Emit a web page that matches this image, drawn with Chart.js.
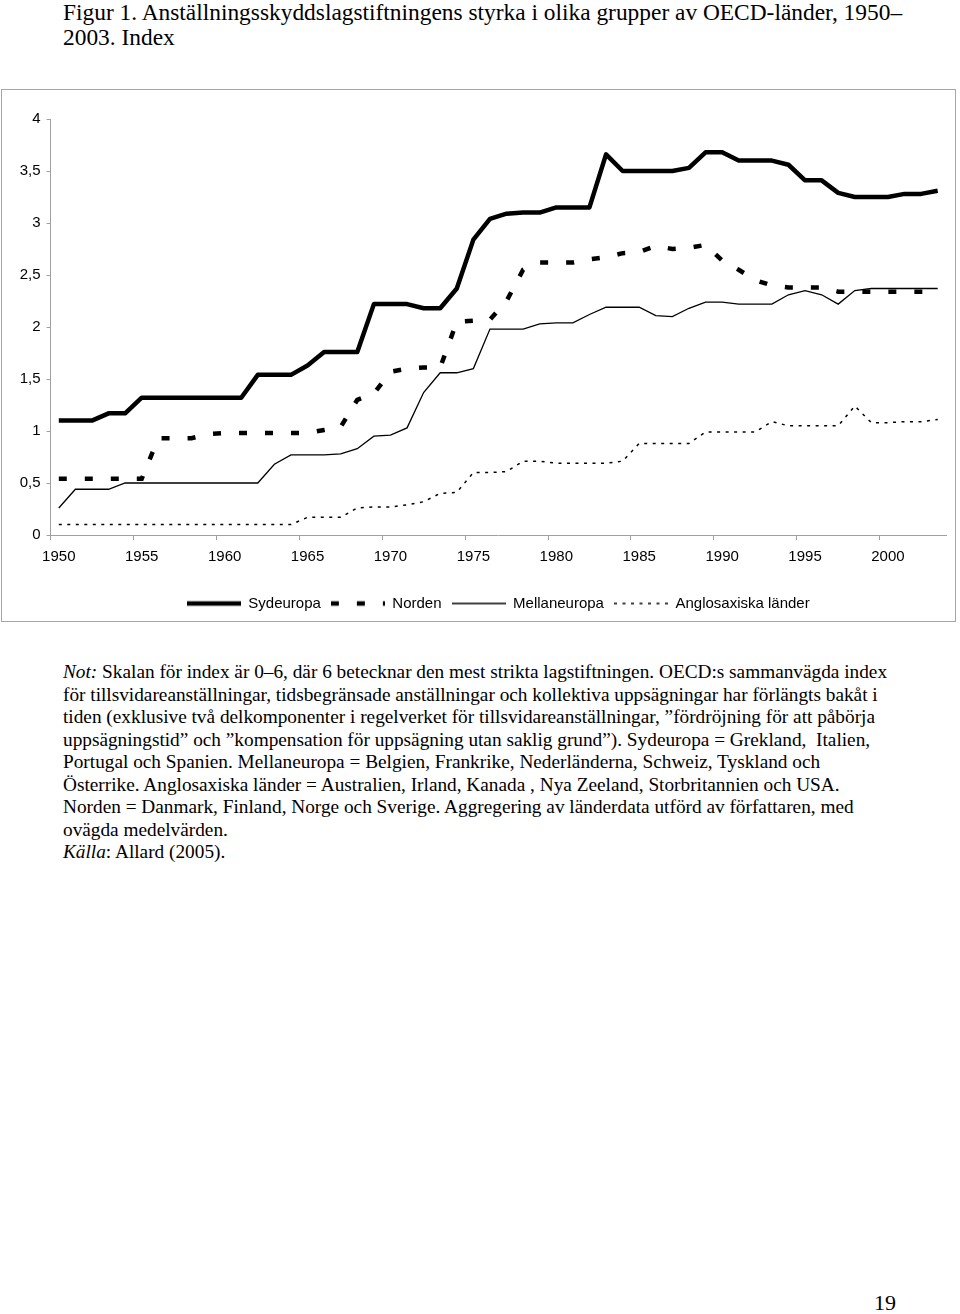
<!DOCTYPE html>
<html lang="sv">
<head>
<meta charset="utf-8">
<title>Figur 1</title>
<script src="https://cdn.jsdelivr.net/npm/chart.js@4.4.0/dist/chart.umd.min.js"></script>
<style>
  body { margin: 0; width: 960px; height: 1314px; background: #fff; position: relative;
         font-family: "Liberation Serif", "Times New Roman", serif; color: #000; overflow: hidden; }
  .title { position: absolute; left: 63px; top: 0; font-size: 23.4px; line-height: 25px; white-space: nowrap; }
  .frame { position: absolute; left: 1px; top: 89px; width: 953px; height: 531px; border: 1px solid #a6a6a6; }
  .notes { position: absolute; left: 63px; top: 661px; font-size: 19.3px; line-height: 22.5px; }
  .notes div { white-space: nowrap; }
  .page { position: absolute; left: 874px; top: 1290px; font-size: 22px; }
</style>
</head>
<body>
<div class="title">Figur 1. Anställningsskyddslagstiftningens styrka i olika grupper av OECD-länder, 1950–<br>2003. Index</div>

<div class="frame"><canvas id="chart"></canvas></div>

<div class="notes">
  <div><i>Not:</i> Skalan för index är 0–6, där 6 betecknar den mest strikta lagstiftningen. OECD:s sammanvägda index</div>
  <div>för tillsvidareanställningar, tidsbegränsade anställningar och kollektiva uppsägningar har förlängts bakåt i</div>
  <div>tiden (exklusive två delkomponenter i regelverket för tillsvidareanställningar, ”fördröjning för att påbörja</div>
  <div>uppsägningstid” och ”kompensation för uppsägning utan saklig grund”). Sydeuropa = Grekland,&nbsp; Italien,</div>
  <div>Portugal och Spanien. Mellaneuropa = Belgien, Frankrike, Nederländerna, Schweiz, Tyskland och</div>
  <div>Österrike. Anglosaxiska länder = Australien, Irland, Kanada , Nya Zeeland, Storbritannien och USA.</div>
  <div>Norden = Danmark, Finland, Norge och Sverige. Aggregering av länderdata utförd av författaren, med</div>
  <div>ovägda medelvärden.</div>
  <div><i>Källa</i>: Allard (2005).</div>
</div>

<div class="page">19</div>

<script>
const years = [
  '1950', '1951', '1952', '1953', '1954', '1955', '1956', '1957', '1958', '1959',
  '1960', '1961', '1962', '1963', '1964', '1965', '1966', '1967', '1968', '1969',
  '1970', '1971', '1972', '1973', '1974', '1975', '1976', '1977', '1978', '1979',
  '1980', '1981', '1982', '1983', '1984', '1985', '1986', '1987', '1988', '1989',
  '1990', '1991', '1992', '1993', '1994', '1995', '1996', '1997', '1998', '1999',
  '2000', '2001', '2002', '2003'
];

const sydeuropa = [
  1.10, 1.10, 1.10, 1.17, 1.17, 1.32, 1.32, 1.32, 1.32, 1.32,
  1.32, 1.32, 1.54, 1.54, 1.54, 1.63, 1.76, 1.76, 1.76, 2.22,
  2.22, 2.22, 2.18, 2.18, 2.37, 2.84, 3.04, 3.09, 3.10, 3.10,
  3.15, 3.15, 3.15, 3.66, 3.50, 3.50, 3.50, 3.50, 3.53, 3.68,
  3.68, 3.60, 3.60, 3.60, 3.56, 3.41, 3.41, 3.29, 3.25, 3.25,
  3.25, 3.28, 3.28, 3.31
];

const norden = [
  0.54, 0.54, 0.54, 0.54, 0.54, 0.54, 0.93, 0.93, 0.93, 0.97,
  0.98, 0.98, 0.98, 0.98, 0.98, 0.98, 1.01, 1.04, 1.30, 1.36,
  1.57, 1.60, 1.61, 1.61, 2.05, 2.06, 2.07, 2.25, 2.55, 2.62,
  2.62, 2.62, 2.65, 2.67, 2.71, 2.72, 2.78, 2.75, 2.76, 2.79,
  2.64, 2.55, 2.45, 2.40, 2.38, 2.38, 2.38, 2.34, 2.34, 2.34,
  2.34, 2.34, 2.34, 2.34
];

const mellaneuropa = [
  0.26, 0.44, 0.44, 0.44, 0.50, 0.50, 0.50, 0.50, 0.50, 0.50,
  0.50, 0.50, 0.50, 0.68, 0.77, 0.77, 0.77, 0.78, 0.83, 0.95,
  0.96, 1.03, 1.37, 1.56, 1.56, 1.60, 1.98, 1.98, 1.98, 2.03,
  2.04, 2.04, 2.12, 2.19, 2.19, 2.19, 2.11, 2.10, 2.18, 2.24,
  2.24, 2.22, 2.22, 2.22, 2.31, 2.35, 2.31, 2.22, 2.35, 2.37,
  2.37, 2.37, 2.37, 2.37
];

const anglosaxiska = [
  0.10, 0.10, 0.10, 0.10, 0.10, 0.10, 0.10, 0.10, 0.10, 0.10,
  0.10, 0.10, 0.10, 0.10, 0.10, 0.17, 0.17, 0.17, 0.26, 0.27,
  0.27, 0.29, 0.32, 0.40, 0.41, 0.60, 0.60, 0.61, 0.71, 0.71,
  0.69, 0.69, 0.69, 0.69, 0.71, 0.88, 0.88, 0.88, 0.88, 0.99,
  0.99, 0.99, 0.99, 1.09, 1.05, 1.05, 1.05, 1.05, 1.24, 1.08,
  1.08, 1.09, 1.09, 1.11
];

const axisGray = '#a0a0a0';
const sampleWidth = 54;

// legend samples: short line pieces in each series' own stroke and dash
function lineSample(width, dash) {
  const c = document.createElement('canvas');
  c.width = sampleWidth;
  c.height = 8;
  const g = c.getContext('2d');
  g.strokeStyle = '#000';
  g.lineWidth = width;
  g.setLineDash(dash);
  g.beginPath();
  g.moveTo(0, 4);
  g.lineTo(sampleWidth, 4);
  g.stroke();
  return c;
}

Chart.defaults.font.family = '"Liberation Sans", Arial, sans-serif';
Chart.defaults.font.size = 15;
Chart.defaults.color = '#000';

const ctx = document.getElementById('chart').getContext('2d');

new Chart(ctx, {
  type: 'line',
  data: {
    labels: years,
    datasets: [
      { label: 'Sydeuropa', data: sydeuropa, borderColor: '#000', backgroundColor: '#000',
        borderWidth: 4.5, borderJoinStyle: 'round', pointStyle: lineSample(4.5, []) },
      { label: 'Norden', data: norden, borderColor: '#000', backgroundColor: '#000',
        borderWidth: 4.5, borderDash: [8, 18], pointStyle: lineSample(4.5, [8, 18]) },
      { label: 'Mellaneuropa', data: mellaneuropa, borderColor: '#000', backgroundColor: '#000',
        borderWidth: 1.3, pointStyle: lineSample(1.3, []) },
      { label: 'Anglosaxiska länder', data: anglosaxiska, borderColor: '#000', backgroundColor: '#000',
        borderWidth: 1.5, borderDash: [3, 5.5], pointStyle: lineSample(1.5, [3, 5.5]) }
    ]
  },
  options: {
    responsive: true,
    maintainAspectRatio: false,
    animation: false,
    layout: { padding: { left: 0, top: 29, right: 9, bottom: 0 } },
    elements: {
      point: { radius: 0, hoverRadius: 0 },
      line: { tension: 0, fill: false }
    },
    plugins: {
      tooltip: { enabled: false },
      legend: {
        position: 'bottom',
        fullSize: false,
        labels: {
          usePointStyle: true,
          pointStyleWidth: sampleWidth,
          padding: 10,
          color: '#000',
          font: { size: 15 }
        }
      }
    },
    scales: {
      x: {
        offset: true,
        grid: {
          offset: true,
          drawOnChartArea: false,
          tickLength: 5,
          color: (c) => (c.index % 5 === 0 ? axisGray : 'rgba(0,0,0,0)')
        },
        border: { color: axisGray },
        ticks: {
          autoSkip: false,
          maxRotation: 0,
          padding: 8,
          callback: (v, i) => (i % 5 === 0 ? years[i] : '')
        },
        afterFit: (s) => { s.height = 51; }
      },
      y: {
        min: 0,
        max: 4,
        grid: { drawOnChartArea: false, tickLength: 4, color: axisGray },
        border: { color: axisGray },
        ticks: {
          stepSize: 0.5,
          padding: 6,
          callback: (v) => String(v).replace('.', ',')
        },
        afterFit: (s) => { s.width = 48.5; }
      }
    }
  }
});
</script>
</body>
</html>
